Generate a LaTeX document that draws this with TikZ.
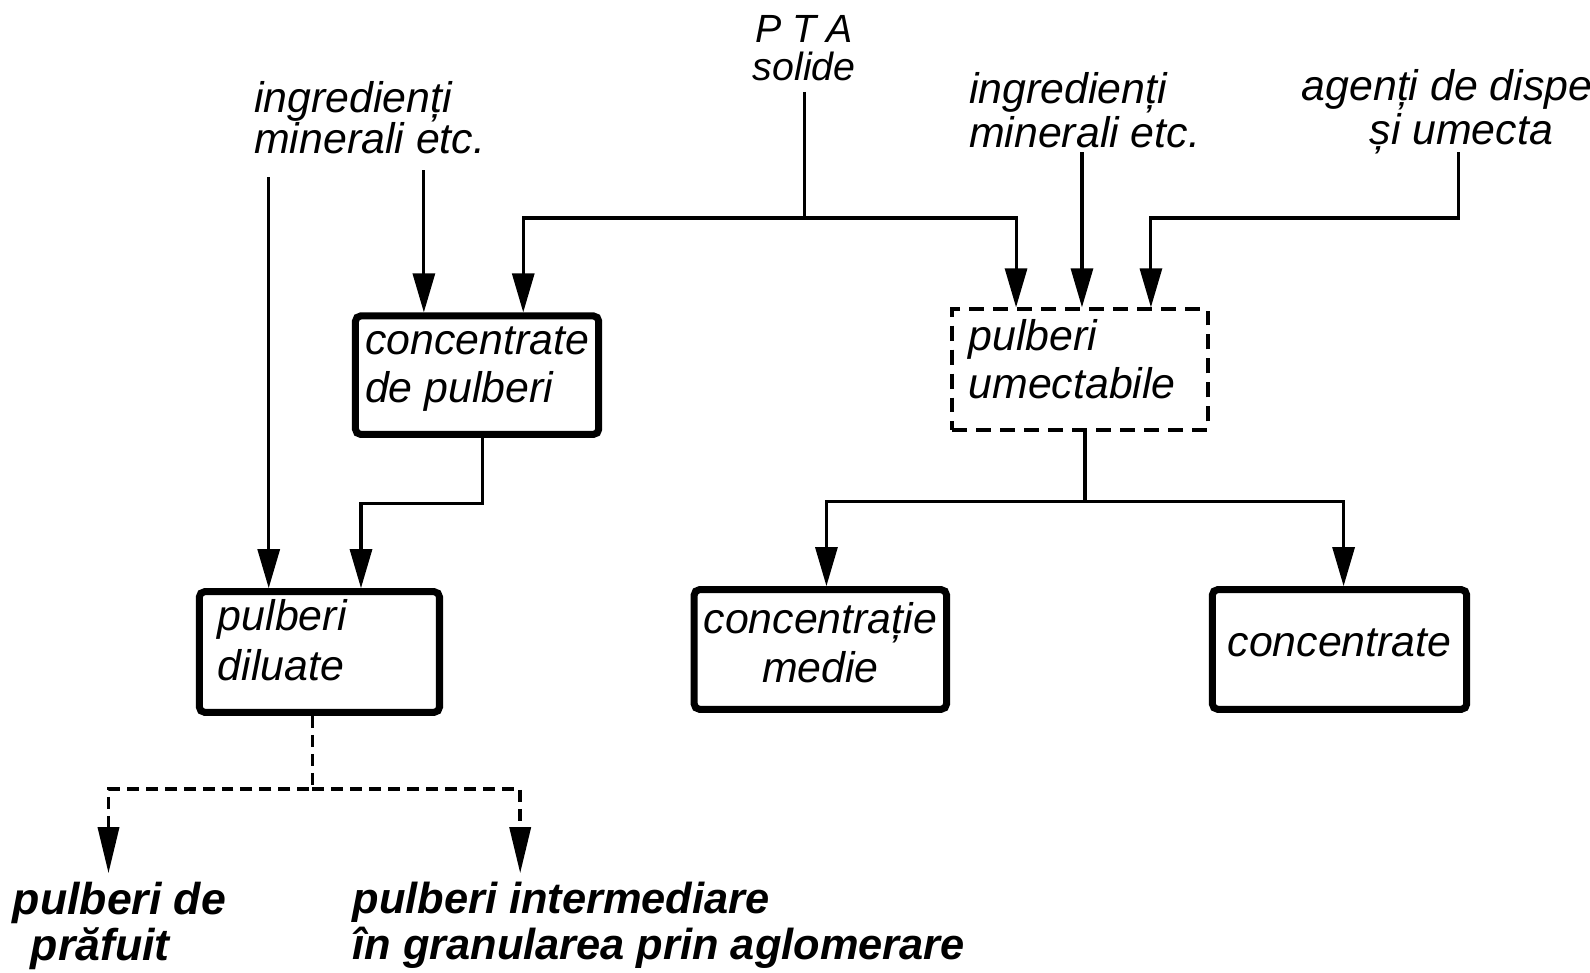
\documentclass[tikz,border=0pt]{standalone}
\usepackage{fontspec}
\setmainfont{Liberation Sans}
\usetikzlibrary{arrows.meta}
\begin{document}
\begin{tikzpicture}[x=0.01014cm,y=-0.01014cm,
  conn/.style={line width=0.87pt},
  arr/.style={conn,-{Triangle[length=0.39cm,width=0.22cm]}},
  darr/.style={line width=1pt, dash pattern=on 0.12cm off 0.07cm, -{Triangle[length=0.46cm,width=0.21cm]}},
  box/.style={draw, line width=2pt, rounded corners=1.5pt, inner sep=0pt, align=left, font=\fontsize{12.2}{13.7}\selectfont\itshape},
  dbox/.style={box, line width=1.1pt, dash pattern=on 0.15cm off 0.09cm, rounded corners=0pt},
  lbl/.style={inner sep=0pt, align=left, font=\fontsize{12.2}{11.6}\selectfont\itshape},
  blbl/.style={inner sep=0pt, align=left, font=\fontsize{12.7}{13.2}\selectfont\bfseries\itshape},
]
\useasboundingbox (0,0) rectangle (1568,958.6);

% text labels
\node[lbl, anchor=north, align=center, font=\fontsize{11.2}{10.8}\selectfont\itshape] (pta) at (793,15) {P\hspace{3pt}T\hspace{3pt}A\\solide};
\node[lbl, anchor=north west] (ing1) at (250,80) {ingredienți\\minerali etc.};
\node[lbl, anchor=north west, font=\fontsize{12.2}{11}\selectfont\itshape] (ing2) at (955,71) {ingredienți\\minerali etc.};
\node[lbl, anchor=north west, font=\fontsize{12.2}{10.2}\selectfont\itshape] (ag) at (1283,68) {agenți de dispe\\\hspace*{0.68cm}și umecta};
\node[blbl, anchor=north west] (pb1) at (12,869) {pulberi de\\\hspace*{0.18cm}prăfuit};
\node[blbl, anchor=north west, font=\fontsize{12.35}{13.2}\selectfont\bfseries\itshape] (pb2) at (347,869) {pulberi intermediare\\în granularea prin aglomerare};

% boxes
\node[box, minimum width=2.434cm, minimum height=1.186cm, text depth=6pt] (cp) at (470.5,370) {concentrate\\de pulberi};
\node[box, minimum width=2.403cm, minimum height=1.207cm, text width=2.03cm, text depth=21.3pt, font=\fontsize{12.2}{14.4}\selectfont\itshape] (pd) at (315,643) {pulberi\\diluate};
\node[dbox, minimum width=2.555cm, minimum height=1.207cm, text width=2.23cm, text depth=20pt] (pu) at (1065,364.5) {pulberi\\umectabile};
\node[box, align=center, minimum width=2.525cm, minimum height=1.197cm, text depth=4pt] (cm) at (809,640.5) {concentrație\\medie};
\node[box, minimum width=2.545cm, minimum height=1.197cm, text depth=4pt] (cc) at (1321,640.5) {concentrate};

% PTA connectors
\coordinate (j1) at (793,215);
\coordinate (a1) at (516,215);
\coordinate (a2) at (1002,215);
\draw[conn, shorten <=0.1cm] (pta.south) -- (j1);
\draw[arr] (j1) -- (a1) -- (a1 |- cp.north);
\draw[arr] (j1) -- (a2) -- (a2 |- pu.north);

% left ingredients
\coordinate (i1a) at (265,175);
\coordinate (i1b) at (418,168);
\draw[arr] (i1a) -- (i1a |- pd.north);
\draw[arr] (i1b) -- (i1b |- cp.north);

% concentrate de pulberi -> pulberi diluate
\coordinate (c1) at (476,497);
\coordinate (c2) at (356,497);
\draw[arr] (cp.south -| c1) -- (c1) -- (c2) -- (c2 |- pd.north);

% right ingredients and agents
\coordinate (i2) at (1067,150);
\draw[arr] (i2) -- (i2 |- pu.north);
\coordinate (g1) at (1438,150);
\coordinate (g2) at (1438,215);
\coordinate (g3) at (1135,215);
\draw[arr] (g1) -- (g2) -- (g3) -- (g3 |- pu.north);

% pulberi umectabile -> outputs
\coordinate (u1) at (1070,495);
\coordinate (u2) at (815,495);
\coordinate (u3) at (1325,495);
\draw[conn] (pu.south -| u1) -- (u1);
\draw[arr] (u1) -- (u2) -- (u2 |- cm.north);
\draw[arr] (u1) -- (u3) -- (u3 |- cc.north);

% pulberi diluate -> dashed outputs
\coordinate (d1) at (308,778);
\coordinate (d2) at (107,778);
\coordinate (d3) at (513,778);
\draw[darr, shorten >=0.08cm] (pd.south -| d1) -- (d1) -- (d2) -- (d2 |- pb1.north);
\draw[darr, shorten >=0.08cm] (d1) -- (d3) -- (d3 |- pb2.north);
\end{tikzpicture}
\end{document}
